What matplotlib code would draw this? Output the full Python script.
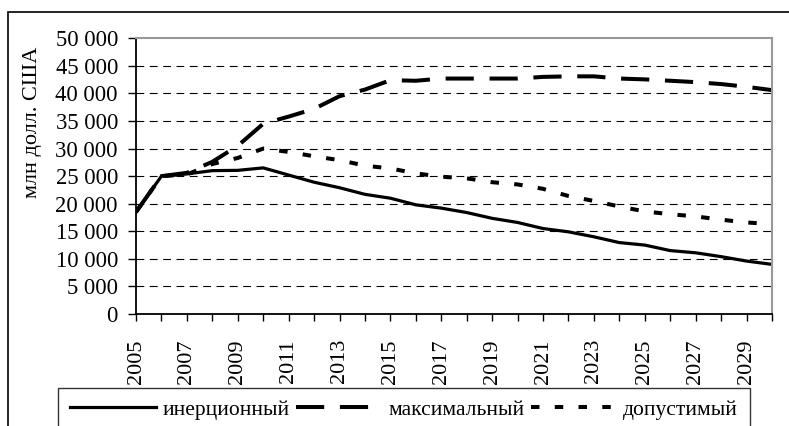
import matplotlib
matplotlib.use("Agg")
import matplotlib.pyplot as plt
from matplotlib.patches import Rectangle
from matplotlib.ticker import FuncFormatter, MultipleLocator

plt.rcParams['font.family'] = ['Liberation Serif', 'DejaVu Serif']

years = list(range(2005, 2031))
inertial = [18500, 25000, 25400, 26000, 26050, 26500, 25200, 23900, 22900, 21700,
            21000, 19800, 19200, 18400, 17350, 16600, 15500, 14900, 14000, 12950,
            12500, 11500, 11100, 10400, 9600, 9000]
maximal = [18500, 25000, 25600, 27600, 30500, 34500, 35800, 37200, 39500, 40700,
           42400, 42300, 42700, 42700, 42700, 42700, 43000, 43100, 43100, 42700,
           42550, 42300, 42050, 41700, 41200, 40600]
allowable = [18500, 25000, 25300, 27200, 28300, 30000, 29400, 28600, 27900, 26900,
             26400, 25500, 24900, 24600, 23900, 23500, 22700, 21400, 20500, 19500,
             18600, 18100, 17700, 17100, 16600, 16300]
series_names = ["инерционный", "максимальный", "допустимый"]
y_label = "млн долл. США"

W, H = 789, 426
fig = plt.figure(figsize=(W / 100, H / 100), dpi=100)
ax = fig.add_axes([136 / W, 1 - 314 / H, (772 - 136) / W, (314 - 38.3) / H])

l1, = ax.plot(years, inertial, color='black', lw=2.3, solid_joinstyle='round')
l2, = ax.plot(years, maximal, color='black', lw=2.9, dashes=(7.0, 3.9), dash_capstyle='butt')
l3, = ax.plot(years, allowable, color='black', lw=2.9, dashes=(2.1, 3.8), dash_capstyle='butt')

ax.set_xlim(2005, 2030)
ax.set_ylim(0, 50000)
ax.yaxis.set_major_locator(MultipleLocator(5000))
ax.xaxis.set_major_locator(MultipleLocator(1))
ax.yaxis.set_major_formatter(FuncFormatter(lambda v, p: f"{int(v):,}".replace(",", " ")))
ax.xaxis.set_major_formatter(FuncFormatter(lambda v, p: str(int(v)) if int(round(v)) % 2 == 1 and v < 2030 else ""))

for y in range(5000, 50000, 5000):
    ax.axhline(y, color='black', lw=0.8, dashes=(7, 5), zorder=0.5)

ax.tick_params(axis='y', direction='out', length=6, width=1, pad=7, labelsize=16.3)
ax.tick_params(axis='x', direction='out', length=5, width=1, pad=13, labelsize=16, labelrotation=90)

for s in ['left', 'bottom']:
    ax.spines[s].set_color('black')
    ax.spines[s].set_linewidth(1.3)
for s in ['top', 'right']:
    ax.spines[s].set_color('#999999')
    ax.spines[s].set_linewidth(1.5)

fig.text(33 / W, 1 - 122 / H, y_label, rotation=90, ha='center', va='center', fontsize=16)

fig.patches.append(Rectangle((8 / W, -0.2), 1.2, 1 - 12 / H + 0.2, transform=fig.transFigure,
                             fill=False, edgecolor='black', lw=1.2))

leg = fig.legend([l1, l2, l3], series_names, loc='upper left',
                 bbox_to_anchor=(58 / W, 1 - 388 / H, (750 - 58) / W, 0.0),
                 mode='expand', ncol=3, fontsize=15.5, frameon=True, fancybox=False,
                 edgecolor='black', handlelength=4.0, handletextpad=0.3,
                 borderpad=0.55, columnspacing=1.0, borderaxespad=0)
leg.get_frame().set_linewidth(1.0)

fig.savefig("out.png", dpi=100)
